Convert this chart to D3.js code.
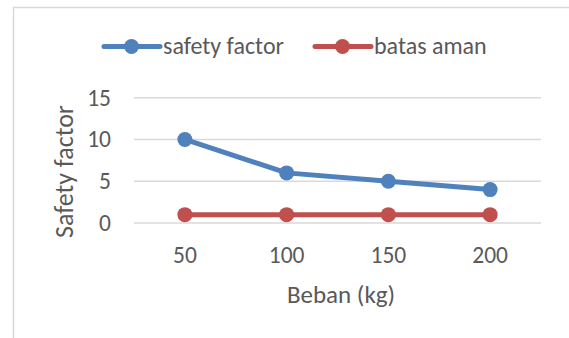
<!DOCTYPE html>
<html>
<head>
<meta charset="utf-8">
<script src="https://cdn.jsdelivr.net/npm/d3@7"></script>
<style>
  html, body { margin: 0; padding: 0; background: #ffffff; }
  svg { display: block; }
  text { font-family: Carlito, "Liberation Sans", Arial, sans-serif; fill: #595959; }
</style>
</head>
<body>
<svg id="chart" width="569" height="338"></svg>
<script>
const categories = ["50", "100", "150", "200"];
const safetyFactor = [10, 6, 5, 4];
const batasAman = [1, 1, 1, 1];
const yTicks = [0, 5, 10, 15];
const seriesNames = ["safety factor", "batas aman"];
const seriesColors = ["#4F81BD", "#C0504D"];
const xTitle = "Beban (kg)";
const yTitle = "Safety factor";

const FONT = 'Carlito, "Liberation Sans", Arial, sans-serif';
const svg = d3.select("#chart");

// chart frame (left and top edges visible)
svg.append("path")
  .attr("d", "M13.5,338 L13.5,7.5 L569,7.5")
  .attr("fill", "none")
  .attr("stroke", "#d9d9d9")
  .attr("stroke-width", 1.5);

const x = d3.scaleBand().domain(categories).range([134, 541]).padding(0);
const y = d3.scaleLinear().domain([0, 15]).range([223, 97.7]);

// gridlines
svg.append("g").selectAll("line").data(yTicks).join("line")
  .attr("x1", 134).attr("x2", 541)
  .attr("y1", d => y(d)).attr("y2", d => y(d))
  .attr("stroke", "#d9d9d9").attr("stroke-width", 1.4);

// y axis labels
const yAxis = d3.axisLeft(y).tickValues(yTicks).tickSize(0).tickPadding(0);
const gy = svg.append("g").attr("transform", "translate(111,0)").call(yAxis);
gy.select(".domain").remove();
gy.selectAll("text").attr("font-size", "23.5px").attr("fill", "#595959")
  .attr("font-family", FONT).attr("dy", "0.32em");

// x axis labels
const xAxis = d3.axisBottom(x).tickSize(0).tickPadding(0);
const gx = svg.append("g").attr("transform", "translate(0,263)").call(xAxis);
gx.select(".domain").remove();
gx.selectAll("text").attr("font-size", "23.5px").attr("fill", "#595959")
  .attr("font-family", FONT).attr("y", 0).attr("dy", "0");

// axis titles
svg.append("text").attr("x", 341).attr("y", 303)
  .attr("text-anchor", "middle").attr("font-size", "25px").text(xTitle);
svg.append("text")
  .attr("transform", "translate(73,171.5) rotate(-90)")
  .attr("text-anchor", "middle").attr("font-size", "26px").text(yTitle);

// series
const series = [safetyFactor, batasAman];
const line = d3.line().x((d, i) => x(categories[i]) + x.bandwidth() / 2).y(d => y(d));
series.forEach((vals, s) => {
  const g = svg.append("g");
  g.append("path").datum(vals)
    .attr("d", line).attr("fill", "none")
    .attr("stroke", seriesColors[s]).attr("stroke-width", 5)
    .attr("stroke-linejoin", "round").attr("stroke-linecap", "round");
  g.selectAll("circle").data(vals).join("circle")
    .attr("cx", (d, i) => x(categories[i]) + x.bandwidth() / 2)
    .attr("cy", d => y(d)).attr("r", 7.5)
    .attr("fill", seriesColors[s]);
});

// legend
const legendX = [104, 315];
const legendY = 46.5;
seriesNames.forEach((name, s) => {
  const g = svg.append("g").attr("transform", `translate(${legendX[s]},${legendY})`);
  g.append("line").attr("x1", 0).attr("x2", 56).attr("y1", 0).attr("y2", 0)
    .attr("stroke", seriesColors[s]).attr("stroke-width", 5).attr("stroke-linecap", "round");
  g.append("circle").attr("cx", 27.5).attr("cy", 0).attr("r", 7.5).attr("fill", seriesColors[s]);
  g.append("text").attr("x", 59).attr("y", 7).attr("font-size", "24px").text(name);
});
</script>
</body>
</html>
